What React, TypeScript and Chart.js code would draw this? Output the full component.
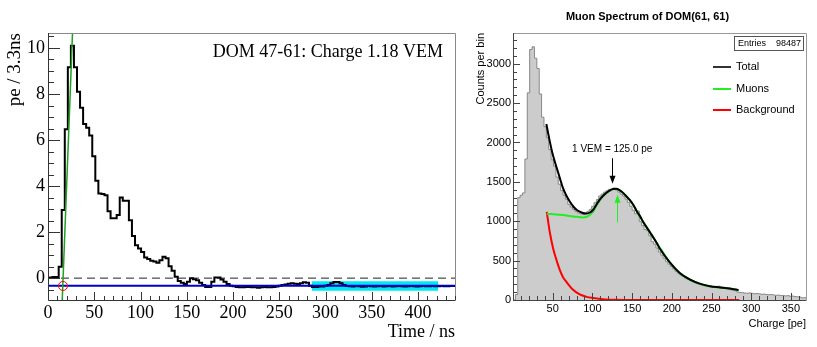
import React, { useEffect, useRef } from 'react';
import { Chart, registerables } from 'chart.js';
Chart.register(...registerables);

// ---------------- Left panel: pulse waveform ----------------
const PULSE_BIN_WIDTH = 3.3; // ns, bin k centred at k * 3.3
const PULSE_VALUES = [
  0.02, 0.03, 0.03, 0.05, 0.05, 0.5, 2.96, 6.47, 9.16, 10.1,
  9.16, 8.1, 7.4, 6.7, 6.53, 6.2, 5.3, 4.23, 3.68, 3.65,
  3.6, 2.91, 2.6, 2.6, 2.74, 3.5, 3.36, 3.36, 2.52, 1.83,
  1.43, 1.29, 1.14, 0.9, 0.83, 0.75, 0.72, 0.67, 0.78, 0.93,
  0.86, 0.52, 0.32, 0.06, -0.12, -0.2, -0.26, -0.16, -0.01, -0.05,
  -0.09, -0.2, -0.3, -0.38, -0.38, -0.16, 0.03, 0.03, -0.06, -0.16,
  -0.26, -0.33, -0.35, -0.38, -0.4, -0.4, -0.38, -0.38, -0.4, -0.4,
  -0.42, -0.4, -0.38, -0.4, -0.4, -0.38, -0.36, -0.33, -0.3, -0.28,
  -0.24, -0.22, -0.24, -0.26, -0.22, -0.18, -0.2, -0.33, -0.38, -0.38,
  -0.36, -0.36, -0.33, -0.3, -0.22, -0.17, -0.17, -0.22, -0.3, -0.34,
  -0.35, -0.36, -0.34, -0.35, -0.37, -0.36, -0.34, -0.35, -0.36, -0.35,
  -0.34, -0.36, -0.35, -0.34, -0.36, -0.35, -0.34, -0.35, -0.36, -0.35,
  -0.34, -0.35, -0.36, -0.35, -0.34, -0.35, -0.35, -0.34, -0.35, -0.35,
  -0.34, -0.35, -0.35, -0.34,
];
const BASELINE_LEVEL = -0.33;
const ZERO_LEVEL = 0;
const BAND_X = [285, 422];
const BAND_Y = [-0.55, -0.13];
const RISE_X = [15.4, 26.5];
const RISE_Y = [-0.95, 10.65];
const START_POINT = { x: 16.2, y: -0.34 };
const LEFT_X_RANGE = [0, 440];
const LEFT_Y_RANGE = [-0.95, 10.65];
const LEFT_X_TICKS = [0, 50, 100, 150, 200, 250, 300, 350, 400];
const LEFT_Y_TICKS = [0, 2, 4, 6, 8, 10];
const LEFT_LABEL = 'DOM 47-61: Charge 1.18 VEM';

// ---------------- Right panel: muon spectrum ----------------
const SPECTRUM_BIN_WIDTH = 3; // pe, bin k spans [3k, 3k+3]
const SPECTRUM_COUNTS = [
  0, 0, 70, 1300, 1330, 1360, 1790, 2630, 3180, 3215,
  3070, 2940, 2615, 2320, 2200, 2060, 1910, 1780, 1700, 1560,
  1470, 1390, 1330, 1280, 1215, 1180, 1150, 1125, 1105, 1095,
  1085, 1100, 1125, 1150, 1190, 1235, 1275, 1320, 1345, 1370,
  1385, 1405, 1400, 1420, 1395, 1370, 1345, 1320, 1280, 1240,
  1190, 1140, 1095, 1130, 995, 945, 895, 880, 815, 740,
  710, 660, 610, 570, 530, 490, 455, 425, 395, 365,
  340, 318, 298, 278, 262, 245, 232, 220, 208, 198,
  190, 182, 176, 170, 165, 160, 172, 175, 165, 150,
  148, 140, 130, 125, 118, 100, 95, 92, 88, 86,
  90, 84, 80, 82, 78, 72, 75, 70, 66, 70,
  64, 60, 62, 56, 58, 52, 55, 48, 50, 44,
  40, 36, 28,
];
const TOTAL_X = [42, 46, 50, 55, 59, 63, 67, 71.5, 76, 80, 84, 88, 92.5, 97, 101, 105, 109, 113.5, 118, 122, 126, 130, 134.5, 139, 143, 147, 152, 156, 160, 164, 172.5, 181, 185, 198, 210, 223, 236, 248, 261, 273, 284];
const TOTAL_Y = [2234, 2030, 1850, 1680, 1547, 1420, 1330, 1251, 1187, 1146, 1122, 1104, 1098, 1111, 1146, 1209, 1272, 1323, 1365, 1392, 1409, 1411, 1392, 1357, 1314, 1270, 1200, 1124, 1065, 990, 860, 724, 650, 471, 344, 259, 205, 175, 160, 146, 125];
const MUON_X = [42.5, 59, 76, 88, 92.5, 97, 101, 105, 109, 113.5, 118, 122, 126, 130, 134.5, 139, 143, 147, 152, 156, 164, 172.5, 181, 190, 198, 210, 223, 236, 248, 261, 273, 284];
const MUON_Y = [1095, 1082, 1061, 1048, 1053, 1082, 1124, 1196, 1262, 1318, 1362, 1390, 1408, 1410, 1391, 1356, 1313, 1269, 1199, 1123, 989, 859, 723, 590, 470, 343, 258, 204, 174, 159, 145, 124];
const BKG_X = [42.5, 46.2, 50.4, 54.6, 58.8, 63, 67.3, 75.7, 84, 92.5, 101, 113.5, 130, 150, 285];
const BKG_Y = [1120, 870, 660, 513, 386, 290, 230, 130, 70, 40, 25, 10, 3, 0, 0];
const RIGHT_X_RANGE = [0, 369];
const RIGHT_Y_RANGE = [0, 3390];
const RIGHT_X_TICKS = [50, 100, 150, 200, 250, 300, 350];
const RIGHT_Y_TICKS = [0, 500, 1000, 1500, 2000, 2500, 3000];
const VEM_CHARGE = 125.0;
const VEM_ARROW_Y = [1800, 1475];
const VEM_LABEL_Y = 1918;
const MUON_PEAK_CHARGE = 131;
const MUON_ARROW_Y = [985, 1335];
const ENTRIES = 98487;
const RIGHT_TITLE = 'Muon Spectrum of DOM(61, 61)';
const LEGEND_ITEMS = ['Total', 'Muons', 'Background'];
const LEGEND_COLORS = ['#333333', '#22ee22', '#ff0000'];

// ---------------- helpers ----------------
type TickSpec = { minor: number; major: number; majorLen: number; minorLen: number };

function drawTicks(chart: any, axis: 'x' | 'y', spec: TickSpec) {
  const ctx = chart.ctx;
  const a = chart.chartArea;
  const s = chart.scales[axis];
  const first = Math.ceil(s.min / spec.minor - 1e-9);
  const last = Math.floor(s.max / spec.minor + 1e-9);
  const ratio = Math.round(spec.major / spec.minor);
  ctx.beginPath();
  for (let i = first; i <= last; i++) {
    const v = i * spec.minor;
    const len = i % ratio === 0 ? spec.majorLen : spec.minorLen;
    if (axis === 'x') {
      const px = Math.round(s.getPixelForValue(v)) + 0.5;
      ctx.moveTo(px, a.bottom);
      ctx.lineTo(px, a.bottom - len);
    } else {
      const py = Math.round(s.getPixelForValue(v)) + 0.5;
      ctx.moveTo(a.left, py);
      ctx.lineTo(a.left + len, py);
    }
  }
  ctx.stroke();
}

function drawFrame(chart: any, axisColor: string, frameColor: string) {
  const ctx = chart.ctx;
  const a = chart.chartArea;
  ctx.lineWidth = 1;
  ctx.strokeStyle = frameColor;
  ctx.beginPath();
  ctx.moveTo(a.left, a.top + 0.5);
  ctx.lineTo(a.right + 0.5, a.top + 0.5);
  ctx.lineTo(a.right + 0.5, a.bottom);
  ctx.stroke();
  ctx.strokeStyle = axisColor;
  ctx.beginPath();
  ctx.moveTo(a.left + 0.5, a.top);
  ctx.lineTo(a.left + 0.5, a.bottom + 0.5);
  ctx.lineTo(a.right + 0.5, a.bottom + 0.5);
  ctx.stroke();
}

const pts = (xs: number[], ys: number[]) => xs.map((x, i) => ({ x, y: ys[i] }));

function histPoints(values: number[], width: number, offset: number) {
  const p = values.map((v, k) => ({ x: (k + offset) * width, y: v }));
  p.push({ x: (values.length + offset) * width, y: values[values.length - 1] });
  return p;
}

const SERIF = '"Liberation Serif", "Times New Roman", serif';
const SANS = '"Liberation Sans", Arial, sans-serif';
const NO_GRID = { display: false, drawTicks: false, tickLength: 0 };

function LeftChart() {
  const ref = useRef<HTMLCanvasElement | null>(null);
  useEffect(() => {
    const decor = {
      id: 'leftDecor',
      afterDraw(chart: any) {
        const ctx = chart.ctx;
        ctx.save();
        drawFrame(chart, '#333333', '#888888');
        ctx.strokeStyle = '#333333';
        ctx.lineWidth = 1;
        drawTicks(chart, 'x', { minor: 10, major: 50, majorLen: 8, minorLen: 4 });
        drawTicks(chart, 'y', { minor: 0.5, major: 2, majorLen: 12, minorLen: 6 });
        ctx.fillStyle = '#000';
        ctx.font = `18px ${SERIF}`;
        ctx.textAlign = 'right';
        ctx.textBaseline = 'alphabetic';
        ctx.fillText(LEFT_LABEL, 443, 57);
        ctx.fillText('Time / ns', 455, 337);
        ctx.translate(20, 33);
        ctx.rotate(-Math.PI / 2);
        ctx.font = `19px ${SERIF}`;
        ctx.fillText('pe / 3.3ns', 0, 0);
        ctx.restore();
      },
    };
    const noLine = { pointRadius: 0 };
    const chart = new Chart(ref.current as HTMLCanvasElement, {
      type: 'line',
      data: {
        datasets: [
          {
            data: [START_POINT],
            showLine: false,
            pointRadius: 4.5,
            pointBorderColor: '#ff0000',
            pointBackgroundColor: 'rgba(0,0,0,0)',
            pointBorderWidth: 1,
          },
          { data: pts(RISE_X, RISE_Y), borderColor: '#22a022', borderWidth: 1.5, ...noLine },
          { data: pts(LEFT_X_RANGE, [BASELINE_LEVEL, BASELINE_LEVEL]), borderColor: '#0000cc', borderWidth: 2, ...noLine },
          { data: histPoints(PULSE_VALUES, PULSE_BIN_WIDTH, -0.5), stepped: 'after', borderColor: '#000000', borderWidth: 2, ...noLine },
          { data: pts(LEFT_X_RANGE, [ZERO_LEVEL, ZERO_LEVEL]), borderColor: '#222222', borderWidth: 1, borderDash: [8, 5], ...noLine },
          { data: pts(BAND_X, [BAND_Y[1], BAND_Y[1]]), fill: '+1', backgroundColor: '#00e8f2', borderColor: 'rgba(0,0,0,0)', ...noLine },
          { data: pts(BAND_X, [BAND_Y[0], BAND_Y[0]]), borderColor: 'rgba(0,0,0,0)', ...noLine },
        ] as any,
      },
      options: {
        animation: false,
        responsive: false,
        events: [],
        layout: { padding: { left: 0, top: 33, right: 15, bottom: 0 } },
        plugins: { legend: { display: false }, tooltip: { enabled: false } },
        scales: {
          x: {
            type: 'linear',
            min: LEFT_X_RANGE[0],
            max: LEFT_X_RANGE[1],
            grid: NO_GRID,
            border: { display: false },
            afterFit: (s: any) => { s.height = 47; },
            afterBuildTicks: (s: any) => { s.ticks = LEFT_X_TICKS.map((v) => ({ value: v })); },
            ticks: { font: { family: SERIF, size: 18 }, color: '#000', padding: 2, maxRotation: 0, autoSkip: false, callback: (v: any) => String(v) },
          },
          y: {
            type: 'linear',
            min: LEFT_Y_RANGE[0],
            max: LEFT_Y_RANGE[1],
            grid: NO_GRID,
            border: { display: false },
            afterFit: (s: any) => { s.width = 48; },
            afterBuildTicks: (s: any) => { s.ticks = LEFT_Y_TICKS.map((v) => ({ value: v })); },
            ticks: { font: { family: SERIF, size: 18 }, color: '#000', padding: 3, autoSkip: false, callback: (v: any) => String(v) },
          },
        },
      } as any,
      plugins: [decor],
    });
    return () => chart.destroy();
  }, []);
  return <canvas ref={ref} width={470} height={347} style={{ position: 'absolute', left: 0, top: 0 }} />;
}

function RightChart() {
  const ref = useRef<HTMLCanvasElement | null>(null);
  useEffect(() => {
    const decor = {
      id: 'rightDecor',
      afterDraw(chart: any) {
        const ctx = chart.ctx;
        const xs = chart.scales.x;
        const ys = chart.scales.y;
        ctx.save();
        drawFrame(chart, '#444444', '#999999');
        ctx.strokeStyle = '#444444';
        ctx.lineWidth = 1;
        drawTicks(chart, 'x', { minor: 10, major: 50, majorLen: 7, minorLen: 4 });
        drawTicks(chart, 'y', { minor: 100, major: 500, majorLen: 7, minorLen: 4 });

        // title
        ctx.fillStyle = '#000';
        ctx.font = `bold 11px ${SANS}`;
        ctx.textAlign = 'center';
        ctx.textBaseline = 'middle';
        ctx.fillText(RIGHT_TITLE, 177.5, 16.5);

        // axis titles
        ctx.font = `11px ${SANS}`;
        ctx.textAlign = 'right';
        ctx.textBaseline = 'alphabetic';
        ctx.fillText('Charge [pe]', 336, 327);
        ctx.save();
        ctx.translate(14, 33);
        ctx.rotate(-Math.PI / 2);
        ctx.fillText('Counts per bin', 0, 0);
        ctx.restore();

        // stats box
        ctx.fillStyle = '#fff';
        ctx.fillRect(264, 36, 69, 14);
        ctx.strokeStyle = '#555';
        ctx.strokeRect(264.5, 36.5, 69, 14);
        ctx.fillStyle = '#000';
        ctx.font = `9px ${SANS}`;
        ctx.textBaseline = 'middle';
        ctx.textAlign = 'left';
        ctx.fillText('Entries', 268, 43.5);
        ctx.textAlign = 'right';
        ctx.fillText(String(ENTRIES), 331, 43.5);

        // legend
        const ly = [67, 89, 110];
        LEGEND_ITEMS.forEach((label, i) => {
          ctx.strokeStyle = LEGEND_COLORS[i];
          ctx.lineWidth = 2;
          ctx.beginPath();
          ctx.moveTo(243, ly[i]);
          ctx.lineTo(261, ly[i]);
          ctx.stroke();
          ctx.fillStyle = '#000';
          ctx.font = `11px ${SANS}`;
          ctx.textAlign = 'left';
          ctx.textBaseline = 'middle';
          ctx.fillText(label, 266, ly[i]);
        });

        // VEM annotation
        const vx = xs.getPixelForValue(VEM_CHARGE);
        ctx.font = `10px ${SANS}`;
        ctx.textAlign = 'center';
        ctx.textBaseline = 'middle';
        ctx.fillStyle = '#000';
        ctx.fillText(`1 VEM = ${VEM_CHARGE.toFixed(1)} pe`, vx, ys.getPixelForValue(VEM_LABEL_Y));
        const arrow = (x: number, y0: number, y1: number, color: string) => {
          const p0 = ys.getPixelForValue(y0);
          const p1 = ys.getPixelForValue(y1);
          const dir = p1 > p0 ? 1 : -1;
          ctx.strokeStyle = color;
          ctx.fillStyle = color;
          ctx.lineWidth = 1;
          ctx.beginPath();
          ctx.moveTo(x, p0);
          ctx.lineTo(x, p1 - dir * 6);
          ctx.stroke();
          ctx.beginPath();
          ctx.moveTo(x, p1);
          ctx.lineTo(x - 3, p1 - dir * 8);
          ctx.lineTo(x + 3, p1 - dir * 8);
          ctx.closePath();
          ctx.fill();
        };
        arrow(Math.round(vx) + 0.5, VEM_ARROW_Y[0], VEM_ARROW_Y[1], '#000');
        arrow(Math.round(xs.getPixelForValue(MUON_PEAK_CHARGE)) + 0.5, MUON_ARROW_Y[0], MUON_ARROW_Y[1], '#22ee22');
        ctx.restore();
      },
    };
    const curve = { pointRadius: 0, borderWidth: 2, cubicInterpolationMode: 'monotone' };
    const chart = new Chart(ref.current as HTMLCanvasElement, {
      type: 'line',
      data: {
        datasets: [
          { data: pts(TOTAL_X, TOTAL_Y), borderColor: '#000000', ...curve },
          { data: pts(MUON_X, MUON_Y), borderColor: '#22ee22', ...curve },
          { data: pts(BKG_X, BKG_Y), borderColor: '#ff0000', ...curve },
          {
            data: histPoints(SPECTRUM_COUNTS, SPECTRUM_BIN_WIDTH, 0),
            stepped: 'after',
            fill: 'origin',
            backgroundColor: '#cccccc',
            borderColor: '#888888',
            borderWidth: 1,
            pointRadius: 0,
          },
        ] as any,
      },
      options: {
        animation: false,
        responsive: false,
        events: [],
        layout: { padding: { left: 0, top: 33, right: 11, bottom: 0 } },
        plugins: { legend: { display: false }, tooltip: { enabled: false } },
        scales: {
          x: {
            type: 'linear',
            min: RIGHT_X_RANGE[0],
            max: RIGHT_X_RANGE[1],
            grid: NO_GRID,
            border: { display: false },
            afterFit: (s: any) => { s.height = 47; },
            afterBuildTicks: (s: any) => { s.ticks = RIGHT_X_TICKS.map((v) => ({ value: v })); },
            ticks: { font: { family: SANS, size: 11 }, color: '#000', padding: 2, maxRotation: 0, autoSkip: false, callback: (v: any) => String(v) },
          },
          y: {
            type: 'linear',
            min: RIGHT_Y_RANGE[0],
            max: RIGHT_Y_RANGE[1],
            grid: NO_GRID,
            border: { display: false },
            afterFit: (s: any) => { s.width = 43; },
            afterBuildTicks: (s: any) => { s.ticks = RIGHT_Y_TICKS.map((v) => ({ value: v })); },
            ticks: { font: { family: SANS, size: 11 }, color: '#000', padding: 2, autoSkip: false, callback: (v: any) => String(v) },
          },
        },
      } as any,
      plugins: [decor],
    });
    return () => chart.destroy();
  }, []);
  return <canvas ref={ref} width={347} height={347} style={{ position: 'absolute', left: 470, top: 0 }} />;
}

export default function App() {
  useEffect(() => {
    document.body.style.margin = '0';
  }, []);
  return (
    <div style={{ position: 'relative', width: 817, height: 347, background: '#fff', overflow: 'hidden' }}>
      <LeftChart />
      <RightChart />
    </div>
  );
}
